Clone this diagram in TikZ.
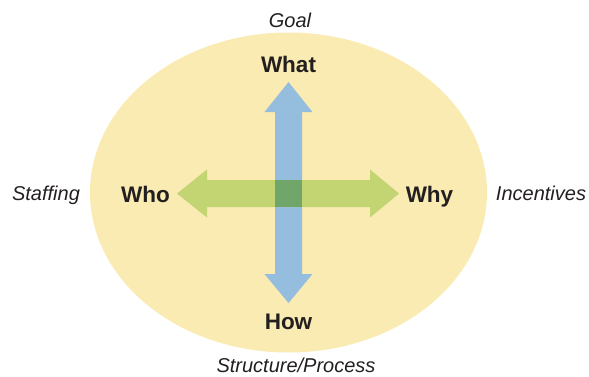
\documentclass[tikz,border=0pt]{standalone}
\usepackage{fontspec}
\setmainfont{Liberation Sans}
\begin{document}
\definecolor{bgyellow}{HTML}{F9EBB2}
\definecolor{arrowblue}{HTML}{95BDDE}
\definecolor{arrowgreen}{HTML}{C3D473}
\definecolor{overlapgreen}{HTML}{71A66B}
\definecolor{ink}{HTML}{231F20}
\begin{tikzpicture}[x=1pt,y=-1pt,
  axislabel/.style={font=\fontsize{22.5}{24}\selectfont\bfseries, text=ink, inner sep=0pt, anchor=base},
  sidelabel/.style={font=\fontsize{20}{22}\selectfont\itshape, text=ink, inner sep=0pt, anchor=base}]
  \useasboundingbox (0,0) rectangle (589,376);
  % background ellipse
  \fill[bgyellow] (288.5,192.5) ellipse [x radius=198.5, y radius=160];
  % vertical double arrow (What / How)
  \fill[arrowblue] (288.5,82) -- (312.5,112) -- (302,112) -- (302,274) -- (312.5,274)
    -- (288.5,303) -- (264.5,274) -- (275,274) -- (275,112) -- (264.5,112) -- cycle;
  % horizontal double arrow (Who / Why)
  \fill[arrowgreen] (177,193.5) -- (207,169.5) -- (207,180) -- (370,180) -- (370,169.5)
    -- (399,193.5) -- (370,217.5) -- (370,207) -- (207,207) -- (207,217.5) -- cycle;
  % crossing of the two shafts
  \fill[overlapgreen] (275,180) rectangle (302,207);
  % dimension labels
  \node[axislabel] (what) at (288.5,72) {What};
  \node[axislabel] (how) at (288.5,329) {How};
  \node[axislabel] (who) at (145.5,202) {Who};
  \node[axislabel] (why) at (429.5,202) {Why};
  % outer labels
  \node[sidelabel] (goal) at (290,27) {Goal};
  \node[sidelabel] (structure) at (296,372) {Structure/Process};
  \node[sidelabel] (staffing) at (46,200) {Staffing};
  \node[sidelabel] (incentives) at (541,200) {Incentives};
\end{tikzpicture}
\end{document}
